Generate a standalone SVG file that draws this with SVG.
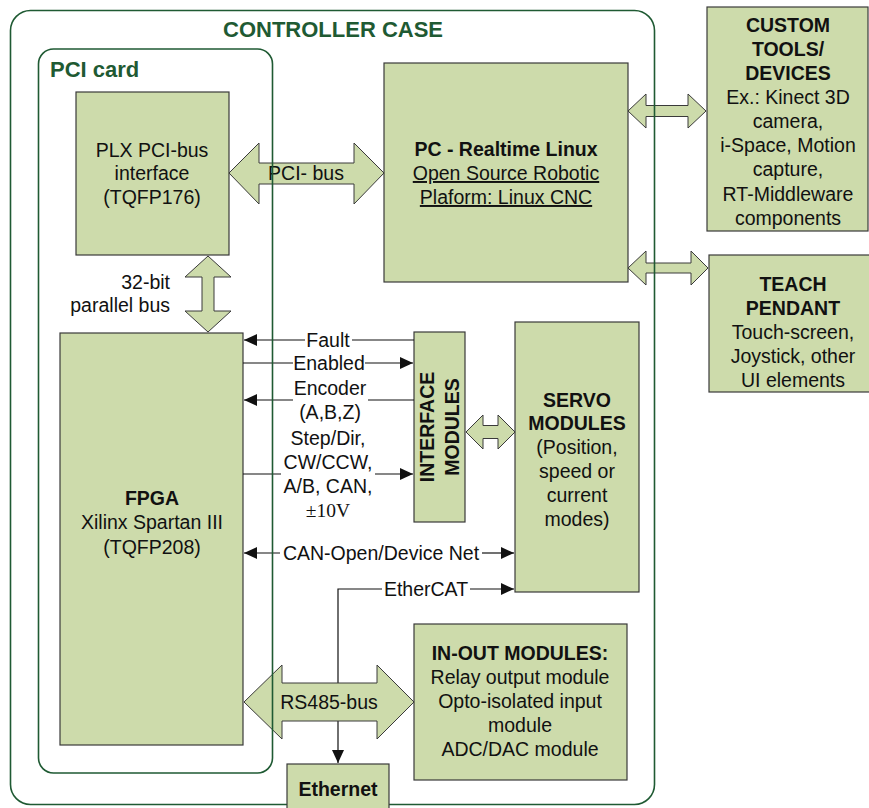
<svg xmlns="http://www.w3.org/2000/svg" width="869" height="808" viewBox="0 0 869 808">
  <style>
    .box { fill: #cddbab; stroke: #3a3a3a; stroke-width: 1.2; }
    .blk { fill: #cddbab; stroke: #3a3a3a; stroke-width: 1; }
    .frame { fill: none; stroke: #1f5a33; stroke-width: 1.6; }
    .title { font-family: "Liberation Sans", Arial, sans-serif; font-weight: bold; fill: #1f5a33; font-size: 22px; }
    .t { font-family: "Liberation Sans", Arial, sans-serif; font-size: 19.5px; fill: #111; text-anchor: middle; }
    .b { font-weight: bold; }
    .u { text-decoration: underline; }
    .wire { fill: none; stroke: #111; stroke-width: 1.2; }
  </style>
  <defs>
    <marker id="ah" markerUnits="userSpaceOnUse" markerWidth="14" markerHeight="14" viewBox="0 0 14 14" refX="13" refY="7" orient="auto-start-reverse">
      <path d="M0,1 L13,7 L0,13 z" fill="#111"/>
    </marker>
  </defs>

  <rect width="869" height="808" fill="#ffffff"/>

  <!-- nodes -->
  <g id="plx">
    <rect class="box" x="76" y="92" width="153" height="163"/>
    <text class="t" x="152" y="157">PLX PCI-bus</text>
    <text class="t" x="152" y="180">interface</text>
    <text class="t" x="152" y="204">(TQFP176)</text>
  </g>

  <g id="pc">
    <rect class="box" x="384" y="63" width="244" height="219"/>
    <text class="t b" x="506" y="156">PC - Realtime Linux</text>
    <text class="t u" x="506" y="180">Open Source Robotic</text>
    <text class="t u" x="506" y="204">Plaform: Linux CNC</text>
  </g>

  <g id="custom-tools">
    <rect class="box" x="707" y="7" width="161" height="224"/>
    <text class="t b" x="788" y="32">CUSTOM</text>
    <text class="t b" x="788" y="56">TOOLS/</text>
    <text class="t b" x="788" y="80">DEVICES</text>
    <text class="t" x="788" y="104">Ex.: Kinect 3D</text>
    <text class="t" x="788" y="128">camera,</text>
    <text class="t" x="788" y="152">i-Space, Motion</text>
    <text class="t" x="788" y="176">capture,</text>
    <text class="t" x="788" y="201">RT-Middleware</text>
    <text class="t" x="788" y="225">components</text>
  </g>

  <g id="teach-pendant">
    <rect class="box" x="709" y="255" width="165" height="137"/>
    <text class="t b" x="793" y="291">TEACH</text>
    <text class="t b" x="793" y="315">PENDANT</text>
    <text class="t" x="793" y="339">Touch-screen,</text>
    <text class="t" x="793" y="363">Joystick, other</text>
    <text class="t" x="793" y="387">UI elements</text>
  </g>

  <g id="fpga">
    <rect class="box" x="60" y="333" width="183" height="412"/>
    <text class="t b" x="152" y="505">FPGA</text>
    <text class="t" x="152" y="529">Xilinx Spartan III</text>
    <text class="t" x="152" y="554">(TQFP208)</text>
  </g>

  <g id="interface-modules">
    <rect class="box" x="414" y="332" width="51" height="190"/>
    <text class="t b" font-size="18" transform="translate(433.5,427) rotate(-90)" x="0" y="0">INTERFACE</text>
    <text class="t b" font-size="18" transform="translate(459,427) rotate(-90)" x="0" y="0">MODULES</text>
  </g>

  <g id="servo-modules">
    <rect class="box" x="515" y="322" width="124" height="270"/>
    <text class="t b" x="577" y="407">SERVO</text>
    <text class="t b" x="577" y="430">MODULES</text>
    <text class="t" x="577" y="454">(Position,</text>
    <text class="t" x="577" y="478">speed or</text>
    <text class="t" x="577" y="502">current</text>
    <text class="t" x="577" y="526">modes)</text>
  </g>

  <g id="in-out-modules">
    <rect class="box" x="414" y="624" width="213" height="156"/>
    <text class="t b" x="520" y="660">IN-OUT MODULES:</text>
    <text class="t" x="520" y="684">Relay output module</text>
    <text class="t" x="520" y="708">Opto-isolated input</text>
    <text class="t" x="520" y="732">module</text>
    <text class="t" x="520" y="756">ADC/DAC module</text>
  </g>

  <!-- connectors -->
  <g id="connectors">
    <!-- signal wires between FPGA, interface and servo modules -->
    <path class="wire" d="M414,340 H352"/>
    <path class="wire" d="M305,340 H244" marker-end="url(#ah)"/>
    <path class="wire" d="M243,363 H293"/>
    <path class="wire" d="M365,363 H413" marker-end="url(#ah)"/>
    <path class="wire" d="M414,400 H368"/>
    <path class="wire" d="M293,400 H244" marker-end="url(#ah)"/>
    <path class="wire" d="M243,474 H281"/>
    <path class="wire" d="M375,474 H413" marker-end="url(#ah)"/>
    <path class="wire" d="M280,553 H244" marker-end="url(#ah)"/>
    <path class="wire" d="M482,553 H514" marker-end="url(#ah)"/>
    <path class="wire" d="M382,589 H338 V763" marker-end="url(#ah)"/>
    <path class="wire" d="M470,589 H514" marker-end="url(#ah)"/>

    <text class="t" x="328" y="347">Fault</text>
    <text class="t" x="329" y="370">Enabled</text>
    <text class="t" x="330" y="395">Encoder</text>
    <text class="t" x="330" y="419">(A,B,Z)</text>
    <text class="t" x="328" y="445">Step/Dir,</text>
    <text class="t" x="328" y="469">CW/CCW,</text>
    <text class="t" x="328" y="493">A/B, CAN,</text>
    <text class="t" x="328" y="517" style="font-family:'Liberation Serif','Times New Roman',serif">±10V</text>
    <text class="t" x="381" y="560">CAN-Open/Device Net</text>
    <text class="t" x="426" y="596">EtherCAT</text>

    <!-- bus arrows -->
    <polygon class="blk" points="229,173 259,143 259,163 354,163 354,143 384,173 354,204 354,184 259,184 259,204"/>
    <text class="t" x="306" y="180">PCI- bus</text>

    <polygon class="blk" points="208,256 231,277 214,277 214,311 231,311 208,332 185,311 202,311 202,277 185,277"/>
    <text class="t" x="170" y="289" style="text-anchor:end">32-bit</text>
    <text class="t" x="170" y="312" style="text-anchor:end">parallel bus</text>

    <polygon class="blk" points="628,111 646,94 646,105.5 688,105.5 688,94 706,111 688,128 688,116.5 646,116.5 646,128"/>
    <polygon class="blk" points="628,268 646,251 646,263 691,263 691,251 708,268 691,285 691,273 646,273 646,285"/>
    <polygon class="blk" points="466,432 483,415 483,425.5 498,425.5 498,415 515,432 498,449 498,438.5 483,438.5 483,449"/>

    <polygon class="blk" points="244,702 282,665 282,683 377,683 377,665 414,702 377,739 377,721 282,721 282,739"/>
    <text class="t" x="329" y="709">RS485-bus</text>
  </g>

  <!-- enclosures -->
  <g id="controller-case">
    <rect class="frame" x="10.5" y="10.5" width="644" height="794" rx="20"/>
    <text class="title" x="333" y="37" text-anchor="middle">CONTROLLER CASE</text>
  </g>
  <g id="pci-card">
    <rect class="frame" x="38.5" y="49" width="234" height="724" rx="15"/>
    <text class="title" x="50" y="77">PCI card</text>
  </g>

  <g id="ethernet">
    <rect class="box" x="287" y="764" width="102" height="50"/>
    <text class="t b" x="338" y="796">Ethernet</text>
  </g>
</svg>
